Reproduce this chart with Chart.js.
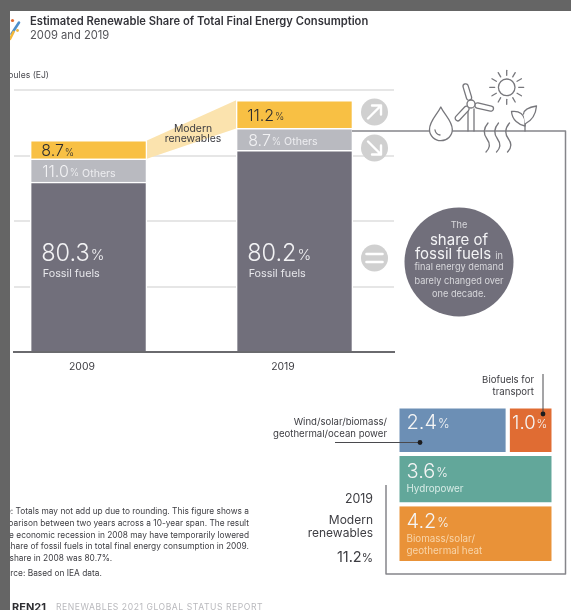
<!DOCTYPE html>
<html>
<head>
<meta charset="utf-8">
<title>Renewable share of total final energy consumption</title>
<script src="https://cdn.jsdelivr.net/npm/chart.js@4"></script>
<style>
  html, body { margin: 0; padding: 0; background: #fff; }
  body { position: relative; width: 571px; height: 610px; overflow: hidden; font-family: Inter, "Liberation Sans", sans-serif; color: #3d3d42; }
  canvas { position: absolute; }
  #barChart { left: 0; top: 0; }
  #mixChart { left: 380px; top: 390px; }
  #art { position: absolute; left: 0; top: 0; }
  .t { position: absolute; white-space: nowrap; line-height: 1; transform: translateY(-50%); }
  .r { text-align: right; }
  .c { text-align: center; transform: translate(-50%, -50%); }
  .edge { position: absolute; background: #656565; }
</style>
</head>
<body>
<canvas id="barChart" width="571" height="400"></canvas>
<canvas id="mixChart" width="190" height="190"></canvas>

<svg id="art" width="571" height="610" fill="none" stroke-linecap="round" stroke-linejoin="round">
  <!-- frame around the 2019 breakdown -->
  <path d="M352 131 H565.5 V574 H386 V485" stroke="#85858a" stroke-width="1.5" stroke-linecap="butt"/>

  <!-- change markers next to the 2019 bar -->
  <circle cx="374.5" cy="112" r="13.5" fill="#d0d0d0"/>
  <path d="M368 118.5 L381 105.5 M372 105.5 H381 V114.5" stroke="#fff" stroke-width="2.4"/>
  <circle cx="374.5" cy="148" r="13.5" fill="#d0d0d0"/>
  <path d="M368 141.5 L381 154.5 M372 154.5 H381 V145.5" stroke="#fff" stroke-width="2.4"/>
  <circle cx="374.5" cy="258" r="13.5" fill="#d0d0d0"/>
  <path d="M366.5 254 H382.5 M366.5 262 H382.5" stroke="#fff" stroke-width="2.6"/>

  <!-- drop, turbine, sun, heat and leaf pictograms on the frame -->
  <g stroke="#77777c" stroke-width="1.3">
    <path d="M440.8 107 C437 115 429.5 121 429.5 129.5 A11.4 11.2 0 0 0 452.3 129.5 C452.3 121 444.5 115 440.8 107Z" fill="#fff"/>
    <path d="M435 130 C435.5 133 437 134.5 440 135"/>
    <path d="M468 109 V131 M474 109 V131"/>
    <rect x="-2.6" y="-21" width="5.2" height="17" rx="2.6" transform="translate(471 104) rotate(-17)" fill="#fff"/>
    <rect x="-2.6" y="-23" width="5.2" height="19" rx="2.6" transform="translate(471 104) rotate(103)" fill="#fff"/>
    <rect x="-2.6" y="-22" width="5.2" height="18" rx="2.6" transform="translate(471 104) rotate(223)" fill="#fff"/>
    <circle cx="471" cy="104" r="4" fill="#fff"/>
    <circle cx="506.7" cy="87.3" r="8.3"/>
    <g id="rays"></g>
    <path d="M488 123 C482 130 484 135 487 139 C490 143 490 148 486 152" fill="none"/>
    <path d="M498.5 123 C492.5 130 494.5 135 497.5 139 C500.5 143 500.5 148 496.5 152" fill="none"/>
    <path d="M509.5 123 C503.5 130 505.5 135 508.5 139 C511.5 143 511.5 148 507.5 152" fill="none"/>
    <path d="M525 131 V120"/>
    <path d="M525 126 C519 125 512 120 511.5 111.5 C518 110.5 526 113 525 126Z" fill="#fff"/>
    <path d="M525 124 C529 122 535.5 118 536.5 106 C530 107 524 109 523.5 114" fill="#fff"/>
  </g>

  <!-- leader lines for the two small cells -->
  <path d="M335 442.5 H420" stroke="#4a4a4e" stroke-width="1" stroke-linecap="butt"/>
  <circle cx="420" cy="442.5" r="2.4" fill="#1c1c1e"/>
  <path d="M543 374 V414" stroke="#4a4a4e" stroke-width="1" stroke-linecap="butt"/>
  <circle cx="543" cy="414" r="2.4" fill="#1c1c1e"/>

  <!-- fossil fuel circle -->
  <circle cx="459" cy="262" r="54.5" fill="#716f7b"/>

  <!-- report mark in the header -->
  <path d="M19 22.5 L11.5 34" stroke="#4f8fc9" stroke-width="2.6"/>
  <path d="M13.5 32 L10 39" stroke="#f3b73a" stroke-width="2.6"/>
  <circle cx="12.5" cy="20.5" r="1.6" fill="#e0692f"/>
  <circle cx="17.5" cy="30.5" r="1.4" fill="#f3b73a"/>
</svg>

<div class="t" style="left:30px;top:21.5px;font-size:11.2px;font-weight:600;color:#34343a">Estimated Renewable Share of Total Final Energy Consumption</div>
<div class="t" style="left:30px;top:36px;font-size:11.2px;color:#55555a">2009 and 2019</div>
<div class="t r" style="right:522px;top:75px;font-size:8.6px;color:#4a4a50">Exajoules (EJ)</div>

<div class="t c" style="left:193px;top:128.5px;font-size:10.4px">Modern</div>
<div class="t c" style="left:193px;top:139px;font-size:10.4px">renewables</div>

<div class="t c" style="left:459px;top:225px;font-size:9.2px;color:#d8d8dc">The</div>
<div class="t c" style="left:459px;top:238.5px;font-size:15px;color:#f4f4f6">share of</div>
<div class="t c" style="left:459px;top:252.5px;font-size:15px;color:#f4f4f6">fossil fuels <span style="font-size:9.2px;color:#d8d8dc">in</span></div>
<div class="t c" style="left:459px;top:267px;font-size:9.2px;color:#d8d8dc">final energy demand</div>
<div class="t c" style="left:459px;top:280.5px;font-size:9.2px;color:#d8d8dc">barely changed over</div>
<div class="t c" style="left:459px;top:293.5px;font-size:9.2px;color:#d8d8dc">one decade.</div>

<div class="t r" style="right:37px;top:380px;font-size:9.6px">Biofuels for</div>
<div class="t r" style="right:37px;top:392px;font-size:9.6px">transport</div>
<div class="t r" style="right:184px;top:422px;font-size:9.6px">Wind/solar/biomass/</div>
<div class="t r" style="right:184px;top:434px;font-size:9.6px">geothermal/ocean power</div>

<div class="t r" style="right:198px;top:498.5px;font-size:12.4px">2019</div>
<div class="t r" style="right:198px;top:520px;font-size:12px">Modern</div>
<div class="t r" style="right:198px;top:533px;font-size:12px">renewables</div>
<div class="t r" style="right:198px;top:557px;font-size:14.5px">11.2<span style="font-size:11.5px">%</span></div>

<div class="t r" style="right:322px;top:511px;font-size:8.35px">Note: Totals may not add up due to rounding. This figure shows a</div>
<div class="t r" style="right:322px;top:522.5px;font-size:8.35px">comparison between two years across a 10-year span. The result</div>
<div class="t r" style="right:322px;top:534.5px;font-size:8.35px">of the economic recession in 2008 may have temporarily lowered</div>
<div class="t r" style="right:322px;top:546px;font-size:8.35px">the share of fossil fuels in total final energy consumption in 2009.</div>
<div class="t" style="left:-8px;top:558px;font-size:8.35px">The share in 2008 was 80.7%.</div>
<div class="t" style="left:-5px;top:573px;font-size:8.35px">Source: Based on IEA data.</div>
<div class="t" style="left:12px;top:607px;font-size:11px;font-weight:700;color:#2f2f33">REN21</div>
<div class="t" style="left:56px;top:607px;font-size:8.6px;letter-spacing:.55px;color:#b9b9bd">RENEWABLES 2021 GLOBAL STATUS REPORT</div>

<div class="edge" style="left:0;top:0;width:571px;height:11px"></div>
<div class="edge" style="left:0;top:0;width:10px;height:610px"></div>

<script>
// shares of final energy use, in percent
const years = [2009, 2019];
const fossilShare = [80.3, 80.2];
const otherShare = [11.0, 8.7];
const modernShare = [8.7, 11.2];

// total final energy consumption, in EJ
const totalEJ = [323, 384];
const gridStepEJ = 100;
const axisMaxEJ = 400;

// modern renewables in 2019, percent of final energy
const mixNames = ["Wind/solar/biomass/geothermal/ocean power", "Biofuels for transport", "Hydropower", "Biomass/solar/geothermal heat"];
const mixValues = [2.4, 1.0, 3.6, 4.2];
const mixRows = [0, 0, 1, 2];
const mixColors = ["#6c8fb5", "#e06c33", "#62a79a", "#e99238"];

const numFont = "Inter, 'Liberation Sans', sans-serif";

function toEJ(share) {
  return share.map((s, i) => s * totalEJ[i] / 100);
}

// number + smaller percent sign + optional tail, left aligned at x
function drawShare(ctx, x, y, value, size, color, tail, tailSize, tailColor) {
  ctx.textAlign = "left";
  ctx.textBaseline = "middle";
  ctx.fillStyle = color;
  ctx.font = "300 " + size + "px " + numFont;
  const num = value.toFixed(1);
  ctx.fillText(num, x, y);
  let w = ctx.measureText(num).width + 1;
  const pct = size * 0.62;
  ctx.font = "300 " + pct + "px " + numFont;
  ctx.fillText("%", x + w, y + size * 0.06);
  w += ctx.measureText("%").width;
  if (tail) {
    ctx.fillStyle = tailColor || color;
    ctx.font = "400 " + tailSize + "px " + numFont;
    ctx.fillText(tail, x + w + 3, y + size * 0.06);
  }
}

// pale band joining the two modern renewables segments
const bandPlugin = {
  id: "band",
  beforeDatasetsDraw(chart) {
    const bars = chart.getDatasetMeta(2).data;
    const a = bars[0], b = bars[1];
    const ctx = chart.ctx;
    ctx.save();
    ctx.fillStyle = "#fbe3ae";
    ctx.beginPath();
    ctx.moveTo(a.x + a.width / 2, a.y);
    ctx.lineTo(b.x - b.width / 2, b.y);
    ctx.lineTo(b.x - b.width / 2, b.base);
    ctx.lineTo(a.x + a.width / 2, a.base);
    ctx.closePath();
    ctx.fill();
    ctx.restore();
  }
};

const barLabels = {
  id: "barLabels",
  afterDatasetsDraw(chart) {
    const ctx = chart.ctx;
    const yScale = chart.scales.y;
    ctx.save();
    years.forEach((year, i) => {
      const fossil = chart.getDatasetMeta(0).data[i];
      const other = chart.getDatasetMeta(1).data[i];
      const modern = chart.getDatasetMeta(2).data[i];
      const x = fossil.x - fossil.width / 2 + 11;
      drawShare(ctx, x, yScale.getPixelForValue(150), fossilShare[i], 23.5, "#f2f2f4");
      ctx.fillStyle = "#e6e6ea";
      ctx.font = "400 10.8px " + numFont;
      ctx.fillText("Fossil fuels", x + 1.5, yScale.getPixelForValue(119));
      drawShare(ctx, x + 1, (other.y + other.base) / 2 + 2, otherShare[i], 16, "#f2f2f4", "Others", 10.6, "#ededf0");
      drawShare(ctx, x, (modern.y + modern.base) / 2 + 2, modernShare[i], 16, "#2c2c30");
    });
    ctx.restore();
  }
};

new Chart(document.getElementById("barChart"), {
  type: "bar",
  data: {
    labels: years,
    datasets: [
      { label: "Fossil fuels", data: toEJ(fossilShare), backgroundColor: "#716f7b" },
      { label: "Others", data: toEJ(otherShare), backgroundColor: "#b9bac0" },
      { label: "Modern renewables", data: toEJ(modernShare), backgroundColor: "#f8c044" }
    ]
  },
  options: {
    responsive: false,
    animation: false,
    layout: { padding: { left: 14, right: 177, top: 90, bottom: 18.5 } },
    datasets: { bar: { barThickness: 116.7, borderColor: "#fff", borderWidth: 1.5 } },
    plugins: { legend: { display: false }, tooltip: { enabled: false } },
    scales: {
      x: {
        type: "linear",
        offset: false,
        stacked: true,
        min: 2005.38,
        max: 2023.83,
        // year captions sit a little left of the bar centres
        afterBuildTicks(axis) { axis.ticks = [2008.68, 2018.44].map(v => ({ value: v })); },
        grid: { display: false, drawTicks: false },
        border: { color: "#6a6a6e", width: 2 },
        ticks: { callback: (v, i) => String(years[i]), maxRotation: 0, padding: 8.5, color: "#3d3d42", font: { family: numFont, size: 10.4 } }
      },
      y: {
        stacked: true,
        min: 0,
        max: axisMaxEJ,
        ticks: { display: false, stepSize: gridStepEJ },
        border: { display: false },
        grid: { color: "#e6e6e6", lineWidth: 2, drawTicks: false }
      }
    }
  },
  plugins: [bandPlugin, barLabels]
});

// each row gets a height in proportion to its sum, each cell a width within its row
function mixCell(i) {
  const total = mixValues.reduce((a, b) => a + b, 0);
  const row = mixRows[i];
  const rowSum = r => mixValues.filter((_, k) => mixRows[k] === r).reduce((a, b) => a + b, 0);
  let top = 0;
  for (let r = 0; r < row; r++) top += rowSum(r) / total;
  const bottom = top + rowSum(row) / total;
  let left = 0;
  mixValues.forEach((v, k) => { if (k < i && mixRows[k] === row) left += v / rowSum(row); });
  const right = left + mixValues[i] / rowSum(row);
  return { left, right, top, bottom };
}

function mixOutline(i) {
  const c = mixCell(i);
  return [
    { x: c.left, y: c.top }, { x: c.right, y: c.top },
    { x: c.right, y: c.bottom }, { x: c.left, y: c.bottom }, { x: c.left, y: c.top }
  ];
}

const mixCaptions = [[], [], ["Hydropower"], ["Biomass/solar/", "geothermal heat"]];

const mixLabels = {
  id: "mixLabels",
  afterDatasetsDraw(chart) {
    const ctx = chart.ctx;
    const { x, y } = chart.scales;
    ctx.save();
    mixValues.forEach((v, i) => {
      const c = mixCell(i);
      const lx = x.getPixelForValue(c.left) + (i === 1 ? 4.5 : 9);
      const ty = y.getPixelForValue(c.top);
      drawShare(ctx, lx, ty + (i < 2 ? 16.5 : 18), v, i === 1 ? 18.5 : 20, "#f5f5f5");
      ctx.font = "400 9.8px " + numFont;
      ctx.fillStyle = i === 3 ? "#f8d5aa" : "#d8ece7";
      mixCaptions[i].forEach((line, k) => ctx.fillText(line, lx, ty + 35 + k * 12));
    });
    ctx.restore();
  }
};

new Chart(document.getElementById("mixChart"), {
  type: "scatter",
  data: {
    datasets: mixValues.map((v, i) => ({
      label: mixNames[i],
      data: mixOutline(i),
      showLine: true,
      fill: "shape",
      tension: 0,
      clip: false,
      backgroundColor: mixColors[i],
      borderColor: "#fff",
      borderWidth: 4,
      pointRadius: 0
    }))
  },
  options: {
    responsive: false,
    animation: false,
    layout: { padding: { left: 17.5, right: 16.5, top: 16.5, bottom: 17 } },
    plugins: { legend: { display: false }, tooltip: { enabled: false } },
    scales: {
      x: { type: "linear", min: 0, max: 1, display: false },
      y: { type: "linear", min: 0, max: 1, reverse: true, display: false }
    }
  },
  plugins: [mixLabels]
});

// sun rays
const rays = document.getElementById("rays");
for (let i = 0; i < 12; i++) {
  const a = i * Math.PI / 6;
  const line = document.createElementNS("http://www.w3.org/2000/svg", "line");
  line.setAttribute("x1", 506.7 + 12 * Math.cos(a));
  line.setAttribute("y1", 87.3 + 12 * Math.sin(a));
  line.setAttribute("x2", 506.7 + 17 * Math.cos(a));
  line.setAttribute("y2", 87.3 + 17 * Math.sin(a));
  rays.appendChild(line);
}
</script>
</body>
</html>
